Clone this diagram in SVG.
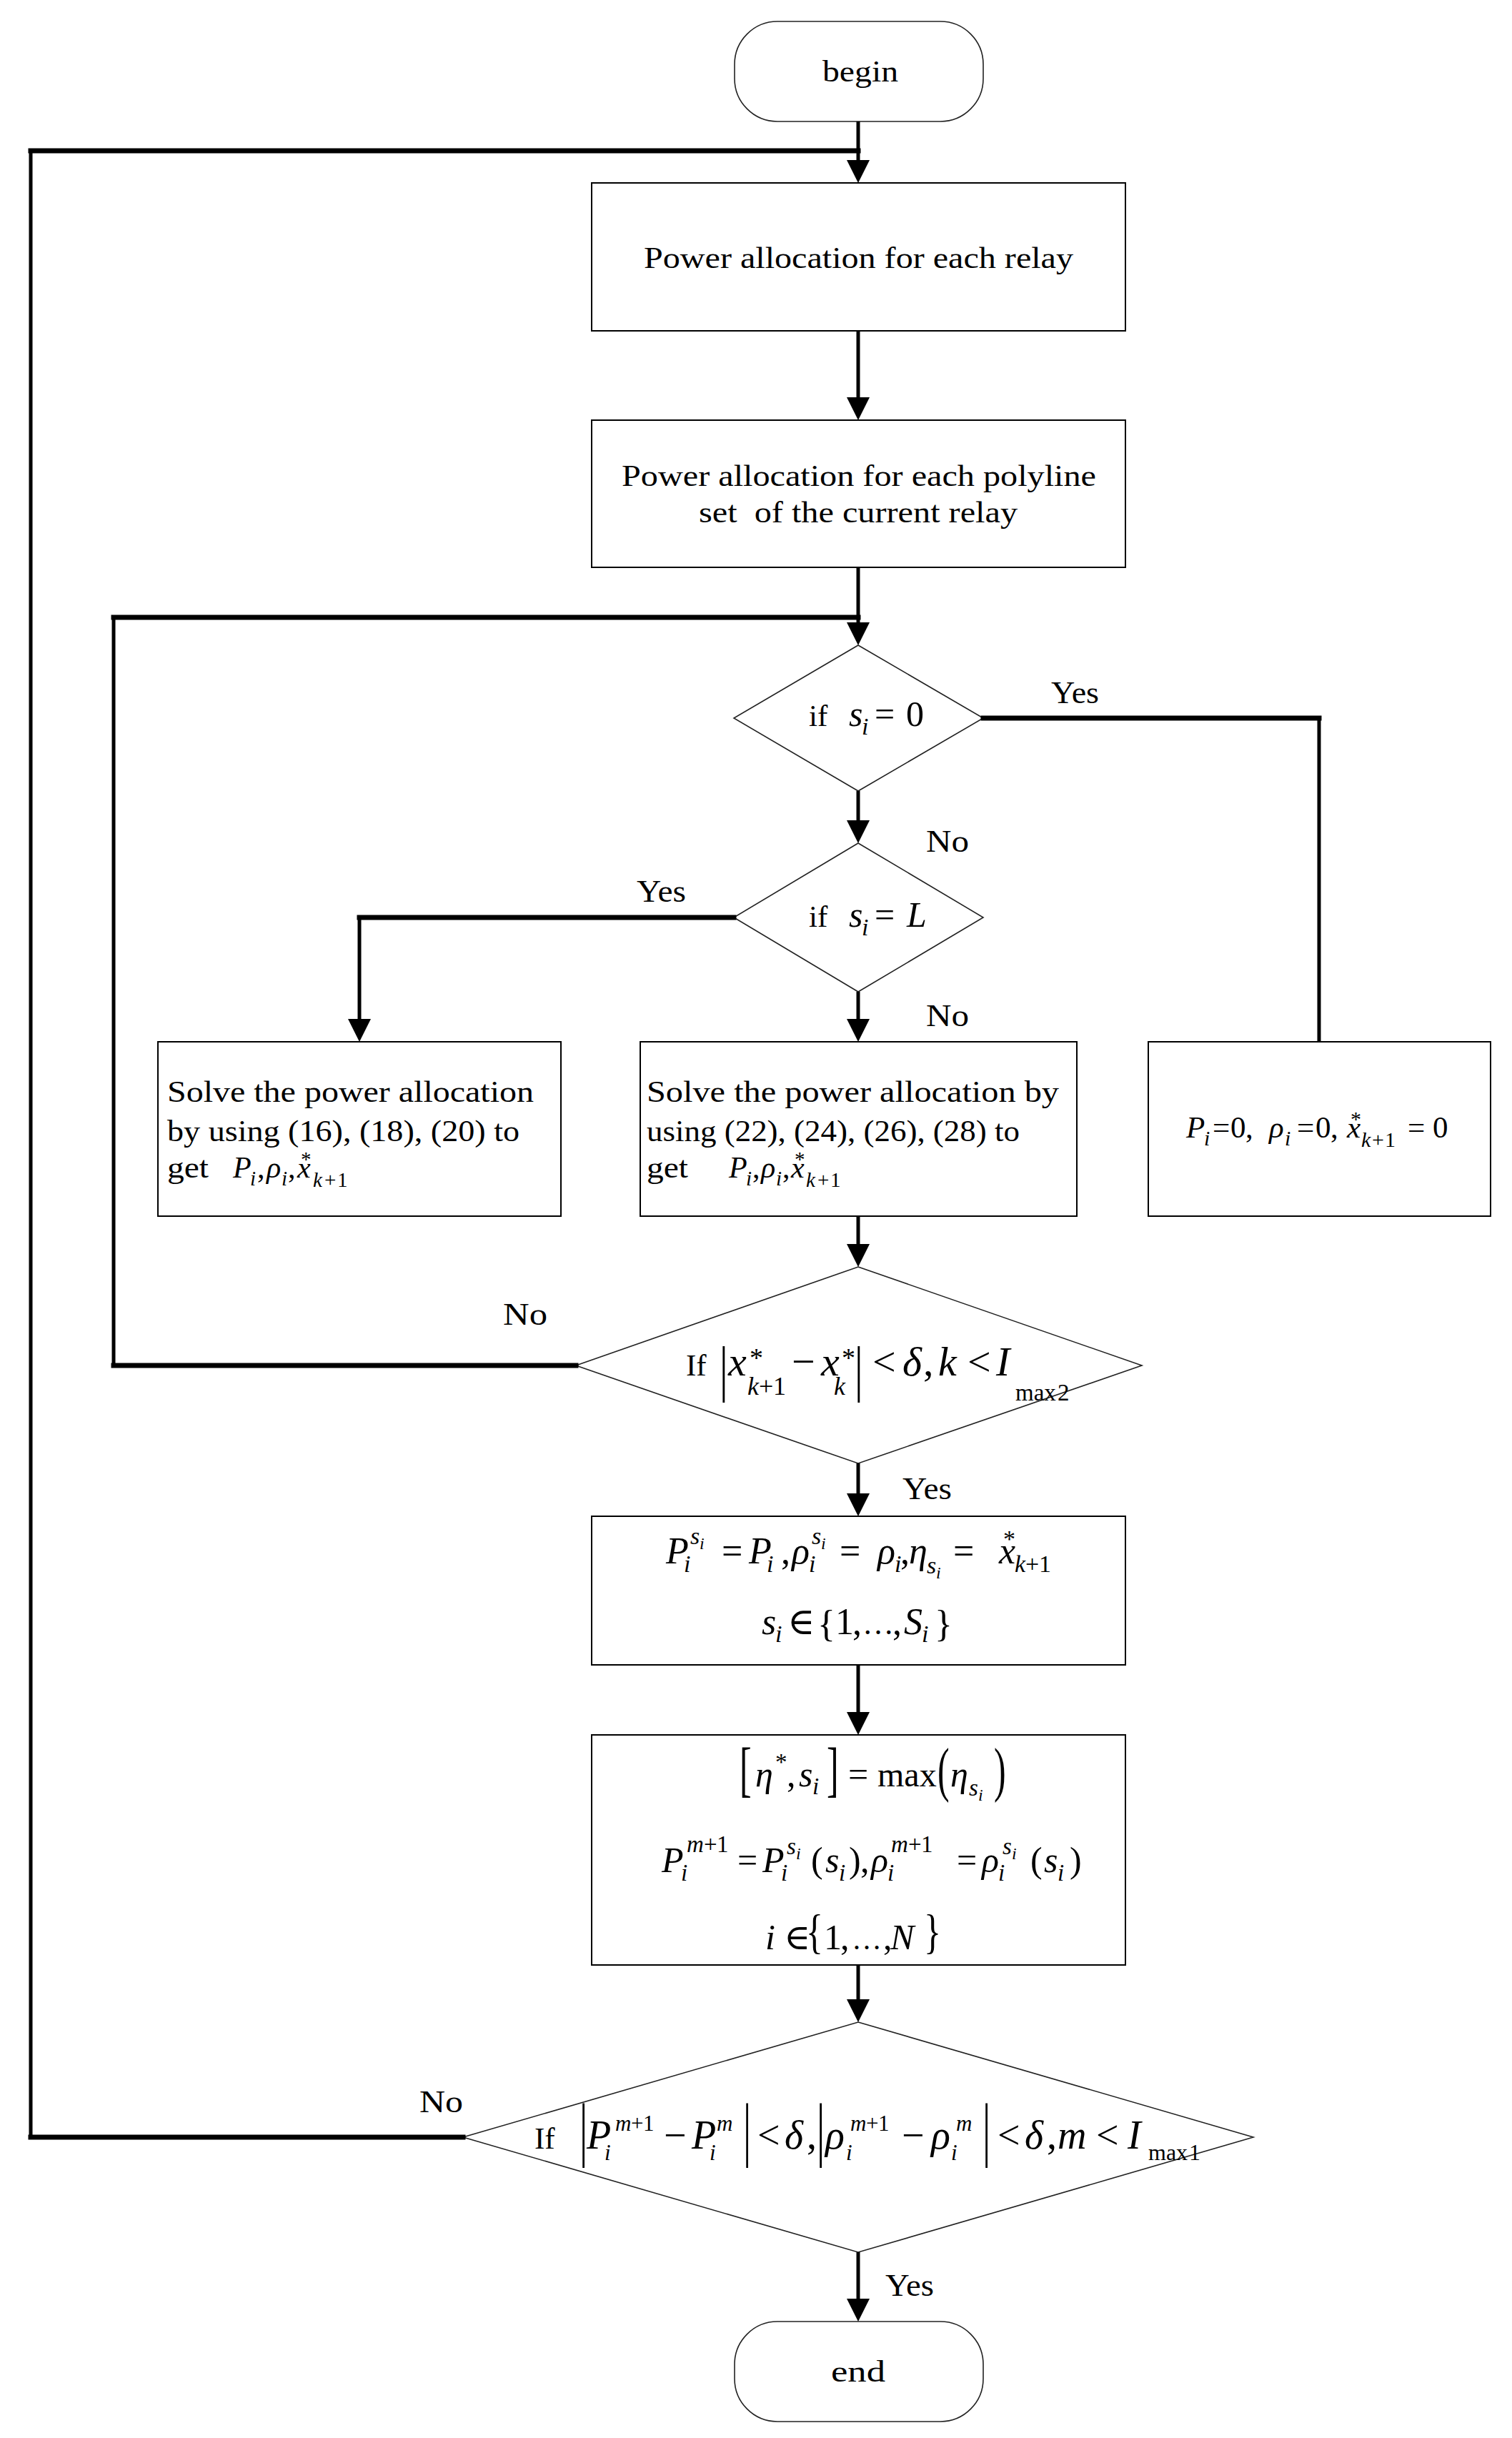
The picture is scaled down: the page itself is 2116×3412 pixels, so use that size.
<svg xmlns="http://www.w3.org/2000/svg" width="2116" height="3412" viewBox="0 0 2116 3412">
<style>
.bg{fill:#fff}
.box{fill:#fff;stroke:#000;stroke-width:2}
.dia{fill:#fff;stroke:#222;stroke-width:1.6}
.term{fill:#fff;stroke:#222;stroke-width:1.6}
.cv{fill:none;stroke:#000;stroke-width:5}
.ch{fill:none;stroke:#000;stroke-width:7;stroke-linecap:square}
.cvs{fill:none;stroke:#000;stroke-width:5;stroke-linecap:square}
.tx{font-family:"Liberation Serif","DejaVu Serif",serif;font-size:43px;fill:#000}
.lb{font-family:"Liberation Serif","DejaVu Serif",serif;font-size:44px;fill:#000}
.m{font-family:"Liberation Serif","DejaVu Serif",serif;font-style:italic;fill:#000}
.u{font-style:normal}
</style>
<defs>
<marker id="ah" viewBox="0 0 32 32" refX="12" refY="16" markerWidth="32" markerHeight="32" markerUnits="userSpaceOnUse" orient="auto">
<path d="M0,0 L32,16 L0,32 z" fill="#000"/>
</marker>
</defs>
<rect class="bg" x="0" y="0" width="2116" height="3412"/>

<g id="begin">
<rect class="term" x="1028" y="30" width="348" height="140" rx="60" ry="60"/>
<text class="tx" x="1151" y="114" textLength="106" lengthAdjust="spacingAndGlyphs">begin</text>
</g>

<g id="box-relay">
<rect class="box" x="828" y="256" width="747" height="207"/>
<text class="tx" x="901" y="375" textLength="601" lengthAdjust="spacingAndGlyphs">Power allocation for each relay</text>
</g>

<g id="box-polyline">
<rect class="box" x="828" y="588" width="747" height="206"/>
<text class="tx" x="870" y="680" textLength="664" lengthAdjust="spacingAndGlyphs">Power allocation for each polyline</text>
<text class="tx" x="978" y="731" textLength="446" lengthAdjust="spacingAndGlyphs" xml:space="preserve">set  of the current relay</text>
</g>

<g id="dec-s0">
<polygon class="dia" points="1201,903 1376,1005 1201,1107 1027,1005"/>
<text class="tx" x="1132" y="1016">if</text>
<text class="m" font-size="50">
<tspan x="1188" y="1016">s</tspan>
<tspan x="1206" y="1028" font-size="34">i</tspan>
<tspan class="u" x="1224" y="1016">=</tspan>
<tspan class="u" x="1268" y="1016">0</tspan>
</text>
</g>

<g id="dec-sL">
<polygon class="dia" points="1201,1180 1376,1284 1201,1388 1027,1284"/>
<text class="tx" x="1132" y="1297">if</text>
<text class="m" font-size="50">
<tspan x="1188" y="1297">s</tspan>
<tspan x="1206" y="1309" font-size="34">i</tspan>
<tspan class="u" x="1224" y="1297">=</tspan>
<tspan x="1269" y="1297">L</tspan>
</text>
</g>

<g id="box-solve-L">
<rect class="box" x="221" y="1458" width="564" height="244"/>
<text class="tx" x="234" y="1542" textLength="513" lengthAdjust="spacingAndGlyphs">Solve the power allocation</text>
<text class="tx" x="234" y="1597" textLength="493" lengthAdjust="spacingAndGlyphs">by using (16), (18), (20) to</text>
<text class="tx" x="234" y="1648" textLength="58" lengthAdjust="spacingAndGlyphs">get</text>
<text class="m" font-size="42">
<tspan x="326" y="1648">P</tspan>
<tspan x="350" y="1659" font-size="29">i</tspan>
<tspan class="u" x="360" y="1648">,</tspan>
<tspan x="373" y="1648">ρ</tspan>
<tspan x="394" y="1659" font-size="29">i</tspan>
<tspan class="u" x="403" y="1648">,</tspan>
<tspan x="416" y="1648">x</tspan>
<tspan class="u" x="421" y="1632" font-size="29">*</tspan>
<tspan x="438" y="1661" font-size="29">k</tspan>
<tspan class="u" x="454" y="1661" font-size="29">+</tspan>
<tspan class="u" x="472" y="1661" font-size="29">1</tspan>
</text>
</g>

<g id="box-solve-M">
<rect class="box" x="896" y="1458" width="611" height="244"/>
<text class="tx" x="905" y="1542" textLength="577" lengthAdjust="spacingAndGlyphs">Solve the power allocation by</text>
<text class="tx" x="905" y="1597" textLength="522" lengthAdjust="spacingAndGlyphs">using (22), (24), (26), (28) to</text>
<text class="tx" x="905" y="1648" textLength="58" lengthAdjust="spacingAndGlyphs">get</text>
<text class="m" font-size="42">
<tspan x="1020" y="1648">P</tspan>
<tspan x="1044" y="1659" font-size="29">i</tspan>
<tspan class="u" x="1053" y="1648">,</tspan>
<tspan x="1065" y="1648">ρ</tspan>
<tspan x="1086" y="1659" font-size="29">i</tspan>
<tspan class="u" x="1095" y="1648">,</tspan>
<tspan x="1107" y="1648">x</tspan>
<tspan class="u" x="1112" y="1632" font-size="29">*</tspan>
<tspan x="1128" y="1661" font-size="29">k</tspan>
<tspan class="u" x="1144" y="1661" font-size="29">+</tspan>
<tspan class="u" x="1162" y="1661" font-size="29">1</tspan>
</text>
</g>

<g id="box-zero">
<rect class="box" x="1607" y="1458" width="479" height="244"/>
<text class="m" font-size="43">
<tspan x="1660" y="1592">P</tspan>
<tspan x="1685" y="1603" font-size="30">i</tspan>
<tspan class="u" x="1697" y="1592">=</tspan>
<tspan class="u" x="1722" y="1592">0</tspan>
<tspan class="u" x="1743" y="1592">,</tspan>
<tspan x="1776" y="1592">ρ</tspan>
<tspan x="1798" y="1603" font-size="30">i</tspan>
<tspan class="u" x="1815" y="1592">=</tspan>
<tspan class="u" x="1841" y="1592">0</tspan>
<tspan class="u" x="1862" y="1592">,</tspan>
<tspan x="1885" y="1592">x</tspan>
<tspan class="u" x="1890" y="1576" font-size="30">*</tspan>
<tspan x="1905" y="1605" font-size="30">k</tspan>
<tspan class="u" x="1920" y="1605" font-size="30">+</tspan>
<tspan class="u" x="1938" y="1605" font-size="30">1</tspan>
<tspan class="u" x="1970" y="1592">=</tspan>
<tspan class="u" x="2005" y="1592">0</tspan>
</text>
</g>

<g id="dec-x-converge">
<polygon class="dia" points="1201,1773 1598,1911 1201,2048 806,1911"/>
<text class="tx" x="960" y="1925">If</text>
<text class="m u" font-size="58" transform="translate(1007,1944) scale(1,1.494)" x="0" y="0">|</text>
<text class="m" font-size="58">
<tspan x="1019" y="1925">x</tspan>
<tspan class="u" x="1049" y="1913" font-size="38">*</tspan>
<tspan x="1046" y="1952" font-size="36">k</tspan>
<tspan class="u" x="1062" y="1952" font-size="36">+</tspan>
<tspan class="u" x="1082" y="1952" font-size="36">1</tspan>
<tspan class="u" x="1108" y="1925">−</tspan>
<tspan x="1149" y="1925">x</tspan>
<tspan class="u" x="1178" y="1913" font-size="38">*</tspan>
<tspan x="1167" y="1952" font-size="36">k</tspan>
<tspan class="u" x="1221" y="1925">&lt;</tspan>
<tspan x="1263" y="1925">δ</tspan>
<tspan class="u" x="1292" y="1925">,</tspan>
<tspan x="1313" y="1925">k</tspan>
<tspan class="u" x="1354" y="1925">&lt;</tspan>
<tspan x="1394" y="1925">I</tspan>
<tspan class="u" x="1421" y="1960" font-size="33">max</tspan>
<tspan class="u" x="1480" y="1960" font-size="33">2</tspan>
</text>
<text class="m u" font-size="58" transform="translate(1196,1944) scale(1,1.494)" x="0" y="0">|</text>
</g>

<g id="box-store">
<rect class="box" x="828" y="2122" width="747" height="208"/>
<text class="m" font-size="52">
<tspan x="932" y="2188">P</tspan>
<tspan x="966" y="2161" font-size="34">s</tspan>
<tspan x="979" y="2168" font-size="24">i</tspan>
<tspan x="957" y="2200" font-size="34">i</tspan>
<tspan class="u" x="1010" y="2188">=</tspan>
<tspan x="1048" y="2188">P</tspan>
<tspan x="1073" y="2200" font-size="34">i</tspan>
<tspan class="u" x="1093" y="2188">,</tspan>
<tspan x="1108" y="2188">ρ</tspan>
<tspan x="1136" y="2161" font-size="34">s</tspan>
<tspan x="1149" y="2168" font-size="24">i</tspan>
<tspan x="1132" y="2200" font-size="34">i</tspan>
<tspan class="u" x="1175" y="2188">=</tspan>
<tspan x="1228" y="2188">ρ</tspan>
<tspan x="1252" y="2200" font-size="34">i</tspan>
<tspan class="u" x="1260" y="2188">,</tspan>
<tspan x="1272" y="2188">η</tspan>
<tspan x="1297" y="2202" font-size="34">s</tspan>
<tspan x="1310" y="2209" font-size="24">i</tspan>
<tspan class="u" x="1334" y="2188">=</tspan>
<tspan x="1398" y="2188">x</tspan>
<tspan class="u" x="1404" y="2165" font-size="34">*</tspan>
<tspan x="1420" y="2200" font-size="34">k</tspan>
<tspan class="u" x="1435" y="2200" font-size="34">+</tspan>
<tspan class="u" x="1454" y="2200" font-size="34">1</tspan>
</text>
<text class="m" font-size="52">
<tspan x="1066" y="2287">s</tspan>
<tspan x="1085" y="2298" font-size="34">i</tspan>
<tspan class="u" x="1102" y="2287">∈</tspan>
<tspan class="u" x="1144" y="2290">{</tspan>
<tspan class="u" x="1169" y="2287">1</tspan>
<tspan class="u" x="1193" y="2287">,</tspan>
<tspan class="u" x="1207" y="2287" font-size="44">…</tspan>
<tspan class="u" x="1249" y="2287">,</tspan>
<tspan x="1265" y="2287">S</tspan>
<tspan x="1290" y="2298" font-size="34">i</tspan>
<tspan class="u" x="1308" y="2290">}</tspan>
</text>
</g>

<g id="box-select">
<rect class="box" x="828" y="2428" width="747" height="322"/>
<text class="m u" font-size="50" transform="translate(1035,2505) scale(1,1.71)" x="0" y="0">[</text>
<text class="m" font-size="50">
<tspan x="1057" y="2500">η</tspan>
<tspan class="u" x="1085" y="2477" font-size="33">*</tspan>
<tspan class="u" x="1101" y="2500">,</tspan>
<tspan x="1118" y="2500">s</tspan>
<tspan x="1137" y="2511" font-size="33">i</tspan>
<tspan class="u" x="1187" y="2500">=</tspan>
<tspan class="u" x="1228" y="2500" font-size="48">max</tspan>
<tspan x="1330" y="2500">η</tspan>
<tspan x="1356" y="2513" font-size="33">s</tspan>
<tspan x="1369" y="2520" font-size="24">i</tspan>
</text>
<text class="m u" font-size="50" transform="translate(1157,2505) scale(1,1.71)" x="0" y="0">]</text>
<text class="m u" font-size="50" transform="translate(1312,2505) scale(1,1.68)" x="0" y="0">(</text>
<text class="m u" font-size="50" transform="translate(1391,2505) scale(1,1.68)" x="0" y="0">)</text>
<text class="m" font-size="50">
<tspan x="926" y="2620">P</tspan>
<tspan x="961" y="2592" font-size="33">m</tspan>
<tspan class="u" x="985" y="2592" font-size="33">+</tspan>
<tspan class="u" x="1003" y="2592" font-size="33">1</tspan>
<tspan x="953" y="2632" font-size="33">i</tspan>
<tspan class="u" x="1032" y="2620">=</tspan>
<tspan x="1067" y="2620">P</tspan>
<tspan x="1101" y="2595" font-size="33">s</tspan>
<tspan x="1114" y="2602" font-size="24">i</tspan>
<tspan x="1093" y="2632" font-size="33">i</tspan>
<tspan class="u" x="1135" y="2620">(</tspan>
<tspan x="1155" y="2620">s</tspan>
<tspan x="1174" y="2632" font-size="33">i</tspan>
<tspan class="u" x="1188" y="2620">)</tspan>
<tspan class="u" x="1204" y="2620">,</tspan>
<tspan x="1219" y="2620">ρ</tspan>
<tspan x="1247" y="2592" font-size="33">m</tspan>
<tspan class="u" x="1271" y="2592" font-size="33">+</tspan>
<tspan class="u" x="1289" y="2592" font-size="33">1</tspan>
<tspan x="1242" y="2632" font-size="33">i</tspan>
<tspan class="u" x="1339" y="2620">=</tspan>
<tspan x="1374" y="2620">ρ</tspan>
<tspan x="1403" y="2595" font-size="33">s</tspan>
<tspan x="1416" y="2602" font-size="24">i</tspan>
<tspan x="1397" y="2632" font-size="33">i</tspan>
<tspan class="u" x="1442" y="2620">(</tspan>
<tspan x="1461" y="2620">s</tspan>
<tspan x="1480" y="2632" font-size="33">i</tspan>
<tspan class="u" x="1497" y="2620">)</tspan>
</text>
<text class="m" font-size="50">
<tspan x="1071" y="2728">i</tspan>
<tspan class="u" x="1097" y="2728">∈</tspan>
<tspan class="u" x="1153" y="2728">1</tspan>
<tspan class="u" x="1176" y="2728">,</tspan>
<tspan class="u" x="1192" y="2728" font-size="42">…</tspan>
<tspan class="u" x="1236" y="2728">,</tspan>
<tspan x="1246" y="2728">N</tspan>
</text>
<text class="m u" font-size="50" transform="translate(1128,2726) scale(1,1.35)" x="0" y="0">{</text>
<text class="m u" font-size="50" transform="translate(1293,2726) scale(1,1.35)" x="0" y="0">}</text>
</g>

<g id="dec-power-converge">
<polygon class="dia" points="1201,2830 1754,2991 1201,3152 648,2991"/>
<text class="tx" x="748" y="3007">If</text>
<text class="m u" font-size="56" transform="translate(811,3013) scale(1,1.786)" x="0" y="0">|</text>
<text class="m u" font-size="56" transform="translate(1040,3013) scale(1,1.786)" x="0" y="0">|</text>
<text class="m u" font-size="56" transform="translate(1143,3013) scale(1,1.786)" x="0" y="0">|</text>
<text class="m u" font-size="56" transform="translate(1375,3013) scale(1,1.786)" x="0" y="0">|</text>
<text class="m" font-size="56">
<tspan x="821" y="3007">P</tspan>
<tspan x="861" y="2982" font-size="31">m</tspan>
<tspan class="u" x="883" y="2982" font-size="31">+</tspan>
<tspan class="u" x="900" y="2982" font-size="31">1</tspan>
<tspan x="846" y="3023" font-size="31">i</tspan>
<tspan class="u" x="929" y="3007">−</tspan>
<tspan x="968" y="3007">P</tspan>
<tspan x="1003" y="2982" font-size="31">m</tspan>
<tspan x="993" y="3023" font-size="31">i</tspan>
<tspan class="u" x="1060" y="3007">&lt;</tspan>
<tspan x="1098" y="3007">δ</tspan>
<tspan class="u" x="1129" y="3007">,</tspan>
<tspan x="1155" y="3007">ρ</tspan>
<tspan x="1190" y="2982" font-size="31">m</tspan>
<tspan class="u" x="1212" y="2982" font-size="31">+</tspan>
<tspan class="u" x="1229" y="2982" font-size="31">1</tspan>
<tspan x="1184" y="3023" font-size="31">i</tspan>
<tspan class="u" x="1262" y="3007">−</tspan>
<tspan x="1303" y="3007">ρ</tspan>
<tspan x="1338" y="2982" font-size="31">m</tspan>
<tspan x="1331" y="3023" font-size="31">i</tspan>
<tspan class="u" x="1396" y="3007">&lt;</tspan>
<tspan x="1434" y="3007">δ</tspan>
<tspan class="u" x="1465" y="3007">,</tspan>
<tspan x="1480" y="3007">m</tspan>
<tspan class="u" x="1534" y="3007">&lt;</tspan>
<tspan x="1578" y="3007">I</tspan>
<tspan class="u" x="1607" y="3023" font-size="32">max</tspan>
<tspan class="u" x="1664" y="3023" font-size="32">1</tspan>
</text>
</g>

<g id="end">
<rect class="term" x="1028" y="3249" width="348" height="140" rx="60" ry="60"/>
<text class="tx" x="1163" y="3333" textLength="76" lengthAdjust="spacingAndGlyphs">end</text>
</g>

<g id="connectors">
<path class="cv" d="M1201,170 V236" marker-end="url(#ah)"/>
<g id="loop-outer">
<path class="ch" d="M648,2991 H43"/>
<path class="cvs" d="M43,2991 V211"/>
<path class="ch" d="M43,211 H1201"/>
</g>
<path class="cv" d="M1201,463 V568" marker-end="url(#ah)"/>
<path class="cv" d="M1201,794 V883" marker-end="url(#ah)"/>
<g id="loop-inner">
<path class="ch" d="M806,1911 H159"/>
<path class="cvs" d="M159,1911 V864"/>
<path class="ch" d="M159,864 H1201"/>
</g>
<path class="cv" d="M1201,1107 V1160" marker-end="url(#ah)"/>
<g id="yes-zero">
<path class="ch" d="M1376,1005 H1846"/>
<path class="cv" d="M1846,1005 V1458"/>
</g>
<g id="yes-L">
<path class="ch" d="M1027,1284 H503"/>
<path class="cv" d="M503,1284 V1438" marker-end="url(#ah)"/>
</g>
<path class="cv" d="M1201,1388 V1438" marker-end="url(#ah)"/>
<path class="cv" d="M1201,1702 V1753" marker-end="url(#ah)"/>
<path class="cv" d="M1201,2048 V2102" marker-end="url(#ah)"/>
<path class="cv" d="M1201,2330 V2408" marker-end="url(#ah)"/>
<path class="cv" d="M1201,2750 V2810" marker-end="url(#ah)"/>
<path class="cv" d="M1201,3152 V3229" marker-end="url(#ah)"/>
</g>

<g id="connector-labels">
<text class="lb" x="1471" y="984" textLength="67" lengthAdjust="spacingAndGlyphs">Yes</text>
<text class="lb" x="1296" y="1192" textLength="60" lengthAdjust="spacingAndGlyphs">No</text>
<text class="lb" x="891" y="1262" textLength="69" lengthAdjust="spacingAndGlyphs">Yes</text>
<text class="lb" x="1296" y="1436" textLength="60" lengthAdjust="spacingAndGlyphs">No</text>
<text class="lb" x="704" y="1854" textLength="62" lengthAdjust="spacingAndGlyphs">No</text>
<text class="lb" x="1263" y="2098" textLength="69" lengthAdjust="spacingAndGlyphs">Yes</text>
<text class="lb" x="587" y="2956" textLength="61" lengthAdjust="spacingAndGlyphs">No</text>
<text class="lb" x="1239" y="3213" textLength="68" lengthAdjust="spacingAndGlyphs">Yes</text>
</g>
</svg>
